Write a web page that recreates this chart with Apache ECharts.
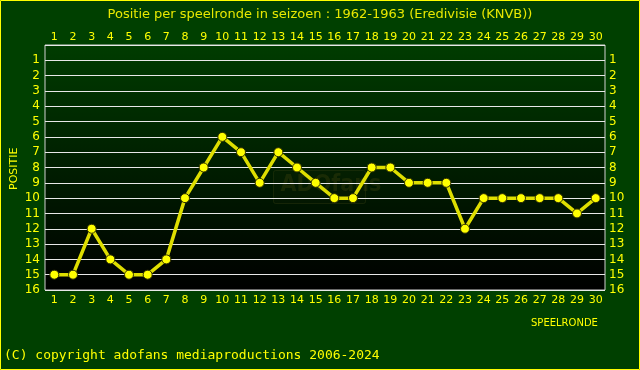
<!DOCTYPE html>
<html><head><meta charset="utf-8">
<script src="https://cdn.jsdelivr.net/npm/echarts@6/dist/echarts.min.js"></script>
<style>html,body{margin:0;padding:0;background:#004000;}#c{width:640px;height:370px;}</style>
</head><body><div id="c"></div>
<script>
const rounds = ['1','2','3','4','5','6','7','8','9','10','11','12','13','14','15','16','17','18','19','20','21','22','23','24','25','26','27','28','29','30'];
const positions = [15,15,12,14,15,15,14,10,8,6,7,9,7,8,9,10,10,8,8,9,9,9,12,10,10,10,10,10,11,10];
const yTicks = [1,2,3,4,5,6,7,8,9,10,11,12,13,14,15,16];
const titleText = 'Positie per speelronde in seizoen : 1962-1963 (Eredivisie (KNVB))';
const copyright = '(C) copyright adofans mediaproductions 2006-2024';

const chart = echarts.init(document.getElementById('c'), null, {renderer:'canvas'});
const Y = '#ffff00';
const lab = {color: Y, fontFamily: 'DejaVu Sans', fontSize: 11};
const yLabel = Object.assign({}, lab, {formatter: v => yTicks.includes(v) ? String(v) : ''});
chart.setOption({
  backgroundColor: '#004000',
  animation: false,
  title: {text: titleText, left: 'center', top: 3, textStyle: {color: '#e8e800', fontFamily: 'DejaVu Sans', fontSize: 13, fontWeight: 'normal'}},
  graphic: [
    {type: 'rect', shape: {x: 0.5, y: 0.5, width: 639, height: 369}, style: {fill: 'none', stroke: '#ffff00', lineWidth: 1}, silent: true},
    {type: 'text', left: 4, top: 349, style: {text: copyright, fill: Y, font: '13px "DejaVu Sans Mono"'}},
    {type: 'text', left: 531, top: 318, style: {text: 'SPEELRONDE', fill: Y, font: '10px "DejaVu Sans"'}},
    {type: 'text', x: 9, y: 190, rotation: Math.PI/2, style: {text: 'POSITIE', fill: Y, font: '11px "DejaVu Sans"'}},
    {type: 'group', left: 273, top: 170, z: 1, children: [
      {type: 'rect', shape: {x: 0, y: 0, width: 92, height: 33, r: 2}, style: {fill: 'rgba(40,50,10,0.10)', stroke: 'rgba(60,70,20,0.35)'}},
      {type: 'text', x: 7, y: 3, style: {text: 'ADOfans', fill: 'rgba(50,60,10,0.45)', font: 'bold 23px "DejaVu Sans Condensed"'}}
    ]}
  ],
  grid: {left: 45, right: 35, top: 45, height: 245, show: true, borderColor: '#d0d0d0', borderWidth: 1,
    backgroundColor: {type: 'linear', x: 0, y: 0, x2: 0, y2: 1, colorStops: [{offset: 0, color: '#003c00'}, {offset: 1, color: '#000000'}]}},
  xAxis: [
    {type: 'category', data: rounds, position: 'bottom', boundaryGap: true, axisLine: {show: false}, axisTick: {show: false}, axisLabel: Object.assign({}, lab, {margin: 5, interval: 0}), splitLine: {show: false}},
    {type: 'category', data: rounds, position: 'top', boundaryGap: true, axisLine: {show: false}, axisTick: {show: false}, axisLabel: Object.assign({}, lab, {margin: 2, interval: 0}), splitLine: {show: false}}
  ],
  yAxis: [
    {type: 'value', inverse: true, min: 0, max: 16, interval: 1, position: 'left', axisLine: {show: false}, axisTick: {show: false}, axisLabel: Object.assign({}, yLabel, {margin: 5, fontSize: 12}), splitLine: {show: true, lineStyle: {color: '#e8e8e8', width: 1}}},
    {type: 'value', inverse: true, min: 0, max: 16, interval: 1, position: 'right', axisLine: {show: false}, axisTick: {show: false}, axisLabel: Object.assign({}, yLabel, {margin: 4, fontSize: 12}), splitLine: {show: false}}
  ],
  series: [{
    type: 'line', data: positions, xAxisIndex: 0, yAxisIndex: 0, z: 5,
    lineStyle: {color: '#dede00', width: 3.5},
    symbol: 'circle', symbolSize: 9,
    itemStyle: {color: '#ffff00', borderColor: '#303000', borderWidth: 1}
  }]
});
</script></body></html>
